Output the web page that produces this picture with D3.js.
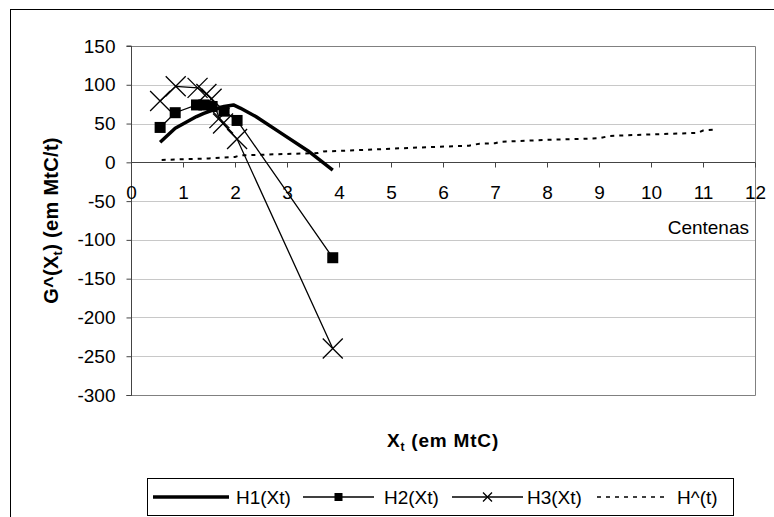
<!DOCTYPE html>
<html>
<head>
<meta charset="utf-8">
<script src="https://cdn.jsdelivr.net/npm/d3@7"></script>
<style>
  body { margin: 0; background: #fff; }
  svg { display: block; }
  text { font-family: "Liberation Sans", Arial, sans-serif; fill: #000; }
</style>
</head>
<body>
<svg id="chart" width="774" height="517"></svg>
<script>
// Series values (x in hundreds of MtC, y in MtC/t)
const h1X = [0.56, 0.85, 1.26, 1.40, 1.56, 1.79, 1.97, 2.10, 2.40, 2.90, 3.40, 3.88];
const h1Y = [26, 44, 59, 63, 67, 72, 74, 70, 59, 37, 15, -10];

const h2X = [0.56, 0.85, 1.26, 1.40, 1.56, 1.79, 2.04, 3.88];
const h2Y = [45, 64, 74, 74, 72, 66, 54, -123];

const h3X = [0.56, 0.86, 1.28, 1.45, 1.55, 1.70, 1.77, 2.04, 3.88];
const h3Y = [79, 98, 96, 88, 82, 57, 50, 30, -240];

const hHatX = [0.59, 1.0, 1.5, 2.0, 2.1, 2.6, 3.1, 3.6, 3.7, 4.3, 4.8, 5.5, 6.5, 6.7, 7.0, 7.1, 8.0, 9.0, 9.2, 10.0, 10.9, 11.0, 11.2];
const hHatY = [3, 4, 5, 7, 9, 10, 11, 12, 14, 15.5, 17, 19, 21.5, 24, 24.5, 26.5, 29, 31, 34, 36, 38, 41, 42];

const xTicks = [0, 1, 2, 3, 4, 5, 6, 7, 8, 9, 10, 11, 12];
const yTicks = [150, 100, 50, 0, -50, -100, -150, -200, -250, -300];

const legendLabels = ["H1(Xt)", "H2(Xt)", "H3(Xt)", "H^(t)"];

const FS = "19px";
const svg = d3.select("#chart");

// outer chart frame
svg.append("rect")
  .attr("x", 10.5).attr("y", 9.5).attr("width", 800).attr("height", 540)
  .attr("fill", "none").attr("stroke", "#000").attr("stroke-width", 1);

const plot = { left: 131, right: 755, top: 46, bottom: 395 };

const x = d3.scaleLinear().domain([0, 12]).range([plot.left, plot.right]);
const y = d3.scaleLinear().domain([-300, 150]).range([plot.bottom, plot.top]);

// horizontal gridlines
svg.append("g")
  .selectAll("line")
  .data(yTicks)
  .join("line")
  .attr("x1", plot.left).attr("x2", plot.right)
  .attr("y1", d => Math.round(y(d)) + 0.5).attr("y2", d => Math.round(y(d)) + 0.5)
  .attr("stroke", "#c8c8c8").attr("stroke-width", 1);

// plot area border (right / top / bottom)
svg.append("path")
  .attr("d", `M${plot.left},${plot.top + 0.5}H${plot.right + 0.5}V${plot.bottom + 0.5}H${plot.left}`)
  .attr("fill", "none").attr("stroke", "#808080").attr("stroke-width", 1);

// y axis
const yAxis = svg.append("g")
  .attr("transform", `translate(${plot.left + 0.5},0)`)
  .call(d3.axisLeft(y).tickValues(yTicks).tickSize(5).tickPadding(11).tickFormat(d3.format("d")));
yAxis.select(".domain").attr("stroke", "#444").attr("d", `M-5,${plot.top}H0V${plot.bottom + 0.5}H-5`);
yAxis.selectAll(".tick line").attr("stroke", "#444");
yAxis.selectAll(".tick text").style("font-size", FS).attr("fill", "#000")
  .text(d => d < 0 ? "-" + Math.abs(d) : d);

// x axis, crossing at y = 0
const xAxis = svg.append("g")
  .attr("transform", `translate(0,${Math.round(y(0)) + 0.5})`)
  .call(d3.axisBottom(x).tickValues(xTicks).tickSize(5).tickPadding(18).tickFormat(d3.format("d")));
xAxis.select(".domain").attr("stroke", "#444").attr("d", `M${plot.left},0H${plot.right}`);
xAxis.selectAll(".tick line").attr("stroke", "#444");
xAxis.selectAll(".tick text").style("font-size", FS).attr("fill", "#000");

// series
const zip = (xs, ys) => xs.map((v, i) => [v, ys[i]]);
const line = d3.line().x(d => x(d[0])).y(d => y(d[1]));

const h1 = zip(h1X, h1Y), h2 = zip(h2X, h2Y), h3 = zip(h3X, h3Y), hh = zip(hHatX, hHatY);

svg.append("path").datum(h1).attr("d", line)
  .attr("fill", "none").attr("stroke", "#000").attr("stroke-width", 3.5).attr("stroke-linejoin", "round");

svg.append("path").datum(h2).attr("d", line)
  .attr("fill", "none").attr("stroke", "#000").attr("stroke-width", 1.3);
svg.append("g").selectAll("rect").data(h2).join("rect")
  .attr("x", d => x(d[0]) - 5.5).attr("y", d => y(d[1]) - 5.5)
  .attr("width", 11).attr("height", 11).attr("fill", "#000");

svg.append("path").datum(h3).attr("d", line)
  .attr("fill", "none").attr("stroke", "#000").attr("stroke-width", 1.3);
const cross = s => `M${-s},${-s}L${s},${s}M${-s},${s}L${s},${-s}`;
svg.append("g").selectAll("path").data(h3).join("path")
  .attr("transform", d => `translate(${x(d[0])},${y(d[1])})`)
  .attr("d", cross(10)).attr("fill", "none").attr("stroke", "#000").attr("stroke-width", 1.3);

svg.append("path").datum(hh).attr("d", line)
  .attr("fill", "none").attr("stroke", "#000").attr("stroke-width", 2)
  .attr("stroke-dasharray", "4,5");

// axis titles
svg.append("text")
  .attr("x", x(6)).attr("y", 447)
  .attr("text-anchor", "middle").style("font-size", FS).style("font-weight", "bold")
  .style("letter-spacing", "0.8px")
  .html('X<tspan dy="4" style="font-size:12px">t</tspan><tspan dy="-4"> (em MtC)</tspan>');

svg.append("text")
  .attr("transform", `translate(58,${(plot.top + plot.bottom) / 2}) rotate(-90)`)
  .attr("text-anchor", "middle").style("font-size", "20px").style("font-weight", "bold")
  .style("letter-spacing", "0.3px")
  .html('G^(X<tspan dy="4" style="font-size:13px">t</tspan><tspan dy="-4">) (em MtC/t)</tspan>');

svg.append("text")
  .attr("x", 749).attr("y", 234).attr("text-anchor", "end").style("font-size", FS)
  .text("Centenas");

// legend
const lg = svg.append("g");
lg.append("rect").attr("x", 147.5).attr("y", 478.5).attr("width", 586).attr("height", 37)
  .attr("fill", "#fff").attr("stroke", "#000").attr("stroke-width", 1);
const ly = 497;
const items = [
  { x1: 153, x2: 229, tx: 236, kind: "thick" },
  { x1: 303, x2: 374, tx: 384, kind: "square" },
  { x1: 452, x2: 523, tx: 527, kind: "cross" },
  { x1: 597, x2: 668, tx: 677, kind: "dash" }
];
items.forEach((it, i) => {
  const l = lg.append("line").attr("x1", it.x1).attr("x2", it.x2).attr("y1", ly).attr("y2", ly)
    .attr("stroke", "#000");
  if (it.kind === "thick") l.attr("stroke-width", 3.5);
  else if (it.kind === "dash") l.attr("stroke-width", 1.5).attr("stroke-dasharray", "4,5");
  else l.attr("stroke-width", 1.3);
  const mx = (it.x1 + it.x2) / 2;
  if (it.kind === "square") lg.append("rect").attr("x", mx - 4).attr("y", ly - 4).attr("width", 8).attr("height", 8).attr("fill", "#000");
  if (it.kind === "cross") lg.append("path").attr("transform", `translate(${mx},${ly})`).attr("d", cross(4.5))
    .attr("stroke", "#000").attr("stroke-width", 1.3);
  lg.append("text").attr("x", it.tx).attr("y", ly + 7).style("font-size", FS).text(legendLabels[i]);
});
</script>
</body>
</html>
